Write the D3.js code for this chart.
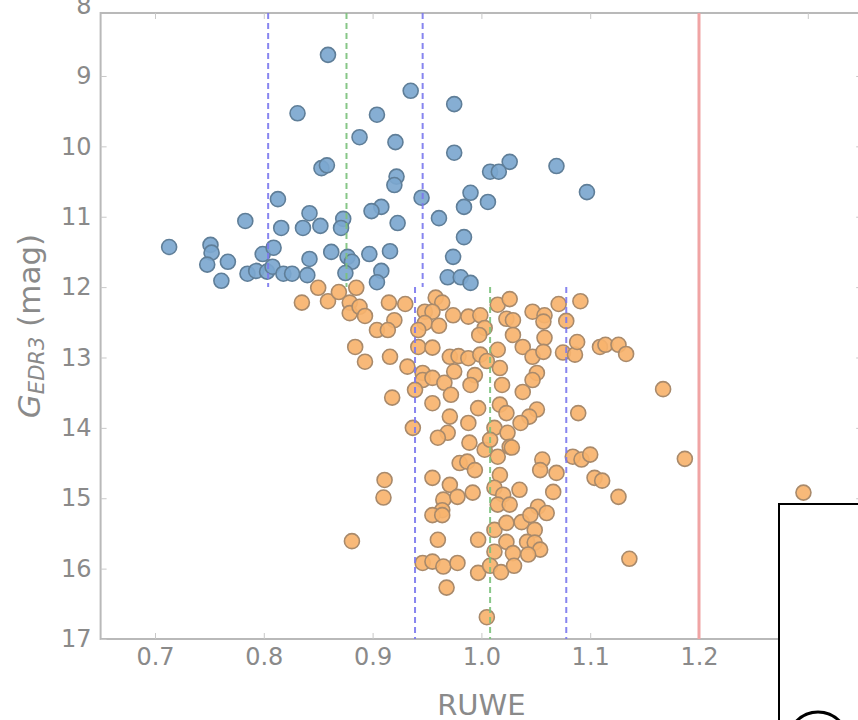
<!DOCTYPE html>
<html>
<head>
<meta charset="utf-8">
<script src="https://cdn.jsdelivr.net/npm/d3@7/dist/d3.min.js"></script>
<style>
  html, body { margin: 0; padding: 0; background: #fff; }
  svg { display: block; }
  text { font-family: "DejaVu Sans", sans-serif; }
</style>
</head>
<body>
<svg id="chart" width="858" height="720"></svg>
<script>
// Bright stars (upper branch)
const brightRuwe = [0.713,0.751,0.752,0.748,0.767,0.761,0.783,0.785,0.793,0.799,0.803,0.809,0.808,0.818,0.826,0.813,0.816,0.831,0.859,0.935,0.975,0.904,0.888,0.921,0.975,0.853,0.858,1.026,1.008,1.016,0.922,0.920,1.069,0.945,0.990,1.006,0.984,0.908,0.899,0.842,0.836,0.852,0.873,0.871,0.923,0.961,0.984,0.862,0.842,0.877,0.881,0.897,0.916,0.974,0.840,0.875,0.908,0.904,0.969,0.981,0.990,1.097];
const brightG = [11.43,11.40,11.51,11.68,11.64,11.91,11.06,11.81,11.77,11.53,11.78,11.44,11.71,11.81,11.81,10.75,11.16,9.53,8.70,9.21,9.40,9.55,9.87,9.94,10.09,10.31,10.27,10.22,10.36,10.36,10.43,10.55,10.28,10.73,10.66,10.79,10.86,10.86,10.92,10.95,11.16,11.13,11.03,11.16,11.09,11.02,11.29,11.50,11.60,11.57,11.64,11.53,11.49,11.57,11.83,11.80,11.77,11.93,11.86,11.86,11.94,10.65];

// Faint stars (lower branch)
const faintRuwe = [
  0.835,0.850,0.859,0.869,0.885,0.879,0.879,0.888,0.893,0.915,0.930,0.920,0.904,0.914,0.884,0.893,0.916,0.932,0.918,0.937,0.911,0.910,0.881,
  0.958,0.964,0.948,0.955,0.948,0.942,0.961,0.974,0.988,0.999,1.003,0.998,0.942,0.955,0.971,0.979,0.988,0.999,1.005,0.946,0.946,0.955,0.939,0.966,0.975,0.994,0.990,0.972,0.955,0.997,0.971,0.988,0.969,0.960,0.989,0.955,0.971,0.965,0.978,0.992,0.964,0.955,0.964,0.960,0.997,0.946,0.955,0.965,0.978,0.997,0.968,0.980,0.987,0.994,1.003,
  1.015,1.026,1.023,1.029,1.029,1.038,1.015,1.047,1.058,1.057,1.071,1.078,1.091,1.058,1.047,1.057,1.075,1.086,1.088,1.109,1.114,1.126,1.133,1.017,1.019,1.038,1.051,1.047,1.017,1.023,1.012,1.024,1.026,1.051,1.044,1.036,1.089,1.167,1.015,1.028,1.017,1.012,1.020,1.035,1.015,1.026,1.012,1.023,1.037,1.023,1.012,1.029,1.008,1.018,1.030,1.005,1.084,1.092,1.100,1.056,1.054,1.069,1.104,1.111,1.066,1.126,1.052,1.060,1.045,1.049,1.042,1.049,1.054,1.043,1.136,1.187,1.296,1.008
];
const faintG = [
  12.22,12.01,12.20,12.07,12.01,12.22,12.37,12.28,12.41,12.22,12.24,12.47,12.61,12.61,12.85,13.06,12.99,13.13,13.57,14.00,14.74,14.99,15.61,
  12.15,12.22,12.35,12.35,12.51,12.61,12.55,12.40,12.42,12.40,12.58,12.68,12.85,12.86,12.99,12.98,13.01,12.96,13.05,13.22,13.32,13.29,13.46,13.36,13.20,13.25,13.39,13.53,13.65,13.72,13.84,13.93,14.07,14.14,14.21,14.71,14.81,15.02,14.98,14.92,15.17,15.24,15.24,15.59,15.59,15.92,15.90,15.97,15.92,16.06,16.27,14.50,14.48,14.60,14.31,
  12.25,12.17,12.45,12.47,12.68,12.85,12.89,12.35,12.40,12.49,12.24,12.48,12.20,12.72,12.99,12.92,12.93,12.96,12.78,12.85,12.82,12.82,12.95,13.15,13.39,13.49,13.22,13.32,13.67,13.79,14.00,14.07,14.27,13.74,13.84,13.93,13.79,13.45,14.41,14.28,14.67,14.85,14.95,14.88,15.09,15.09,15.45,15.35,15.34,15.62,15.76,15.78,15.96,16.05,15.96,16.69,14.41,14.45,14.38,14.45,14.60,14.64,14.71,14.75,14.91,14.98,15.12,15.21,15.24,15.45,15.62,15.63,15.73,15.80,15.86,14.44,14.92,14.17
];

// Mean and ±1σ RUWE for each branch, plus the RUWE = 1.2 cut
const brightStats = [0.804, 0.876, 0.946];
const faintStats  = [0.939, 1.008, 1.078];
const ruweCut = 1.2;
const statKinds = ["low", "mean", "high"];

const xTicks = [0.7, 0.8, 0.9, 1.0, 1.1, 1.2, 1.3];
const yTicks = [8, 9, 10, 11, 12, 13, 14, 15, 16, 17];

const svg = d3.select("#chart");
const x = d3.scaleLinear().domain([0.65, 1.35]).range([100.6, 862.2]);
const y = d3.scaleLinear().domain([8, 17]).range([5.6, 639]);
const yTop = 8.105, yBottom = 17, branchSplit = 12;

const spineColor = "#b9b9b9";
const labelColor = "#8a8a8a";

// frame
svg.append("rect")
  .attr("x", x(0.65)).attr("y", y(yTop))
  .attr("width", x(1.35) - x(0.65)).attr("height", y(yBottom) - y(yTop))
  .attr("fill", "#fff").attr("stroke", spineColor).attr("stroke-width", 2);

function styleAxis(g, showLabels) {
  g.select(".domain").remove();
  g.selectAll(".tick line").attr("stroke", "#c8c8c8").attr("stroke-width", 1);
  g.selectAll(".tick text")
    .attr("fill", labelColor)
    .style("font-family", "DejaVu Sans")
    .style("font-size", "24px");
  if (!showLabels) g.selectAll(".tick text").remove();
}

svg.append("g").attr("transform", `translate(0,${y(yBottom)})`)
  .call(d3.axisBottom(x).tickValues(xTicks).tickFormat(d3.format(".1f")).tickSize(-6).tickPadding(9))
  .call(g => styleAxis(g, true));
svg.append("g").attr("transform", `translate(0,${y(yTop)})`)
  .call(d3.axisTop(x).tickValues(xTicks).tickSize(-6))
  .call(g => styleAxis(g, false));
svg.append("g").attr("transform", `translate(${x(0.65)},0)`)
  .call(d3.axisLeft(y).tickValues(yTicks).tickFormat(d3.format("d")).tickSize(-6).tickPadding(9))
  .call(g => { styleAxis(g, true); g.selectAll(".tick").filter(d => d < yTop).select("line").remove(); });
svg.append("g").attr("transform", `translate(${x(1.35)},0)`)
  .call(d3.axisRight(y).tickValues(yTicks).tickSize(-6))
  .call(g => { styleAxis(g, false); g.selectAll(".tick").filter(d => d < yTop).select("line").remove(); });

// points
function drawPoints(xs, ys, fill, stroke) {
  svg.append("g").selectAll("circle")
    .data(xs.map((v, i) => [v, ys[i]]))
    .join("circle")
    .attr("cx", d => x(d[0]))
    .attr("cy", d => y(d[1]))
    .attr("r", 7.5)
    .attr("fill", fill)
    .attr("fill-opacity", 0.92)
    .attr("stroke", stroke)
    .attr("stroke-width", 1.6);
}
drawPoints(brightRuwe, brightG, "#7ca7cf", "#5f7e98");
drawPoints(faintRuwe, faintG, "#f7b36e", "#a98a6b");

// reference lines
const lineColor = { low: "#7b78ee", mean: "#7cc27c", high: "#7b78ee" };
function drawStats(vals, g0, g1) {
  svg.append("g").selectAll("line")
    .data(vals.map((v, i) => ({ v, kind: statKinds[i] })))
    .join("line")
    .attr("x1", d => x(d.v)).attr("x2", d => x(d.v))
    .attr("y1", y(g0)).attr("y2", y(g1))
    .attr("stroke", d => lineColor[d.kind])
    .attr("stroke-width", 2)
    .attr("stroke-dasharray", "6,4")
    .attr("opacity", 0.9);
}
drawStats(brightStats, yTop, branchSplit);
drawStats(faintStats, branchSplit, yBottom);

svg.append("line")
  .attr("x1", x(ruweCut)).attr("x2", x(ruweCut))
  .attr("y1", y(yTop)).attr("y2", y(yBottom))
  .attr("stroke", "#f0a4a4").attr("stroke-width", 3);

// axis titles
svg.append("text")
  .attr("x", x(1.0)).attr("y", 715)
  .attr("text-anchor", "middle")
  .attr("fill", labelColor)
  .style("font-size", "29px")
  .text("RUWE");

const yl = svg.append("text")
  .attr("transform", "translate(40,326) rotate(-90)")
  .attr("text-anchor", "middle")
  .attr("fill", labelColor)
  .style("font-size", "31px");
yl.append("tspan").style("font-style", "italic").text("G");
yl.append("tspan").style("font-style", "italic").style("font-size", "21px").attr("dy", 4).text("EDR3");
yl.append("tspan").attr("dy", -4).text(" (mag)");

// inset panel in the lower right
svg.append("rect")
  .attr("x", 779).attr("y", 504).attr("width", 100).attr("height", 240)
  .attr("fill", "#fff").attr("stroke", "#000").attr("stroke-width", 2);
svg.append("circle")
  .attr("cx", 818).attr("cy", 742).attr("r", 30)
  .attr("fill", "none").attr("stroke", "#000").attr("stroke-width", 3);
</script>
</body>
</html>
